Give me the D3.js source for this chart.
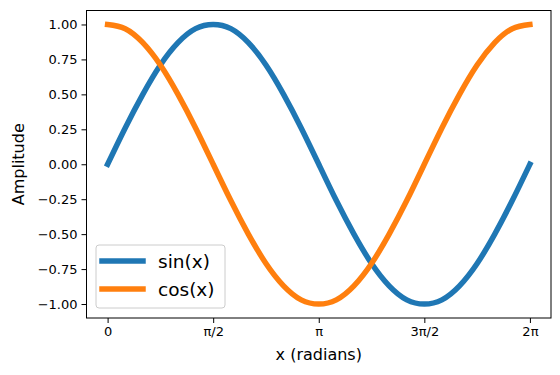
<!DOCTYPE html>
<html>
<head>
<meta charset="utf-8">
<script src="https://cdn.jsdelivr.net/npm/d3@7"></script>
<style>
  body { margin: 0; background: #fff; }
  svg { font-family: "DejaVu Sans", sans-serif; }
</style>
</head>
<body>
<svg id="chart" width="560" height="375"></svg>
<script>
// x positions (radians), every pi/12
const xs = [0, 0.262, 0.524, 0.785, 1.047, 1.309, 1.571, 1.833, 2.094, 2.356, 2.618, 2.880,
  3.142, 3.403, 3.665, 3.927, 4.189, 4.451, 4.712, 4.974, 5.236, 5.498, 5.760, 6.021, 6.283]
const sinValues = [0, 0.26, 0.5, 0.71, 0.87, 0.97, 1, 0.97, 0.87, 0.71, 0.5, 0.26,
  0, -0.26, -0.5, -0.71, -0.87, -0.97, -1, -0.97, -0.87, -0.71, -0.5, -0.26, 0]
const cosValues = [1, 0.97, 0.87, 0.71, 0.5, 0.26, 0, -0.26, -0.5, -0.71, -0.87, -0.97,
  -1, -0.97, -0.87, -0.71, -0.5, -0.26, 0, 0.26, 0.5, 0.71, 0.87, 0.97, 1]
const seriesNames = ["sin(x)", "cos(x)"]
const seriesColors = ["#1f77b4", "#ff7f0e"]
const xTickValues = [0, 1.5708, 3.1416, 4.7124, 6.2832]
const xTickLabels = ["0", "π/2", "π", "3π/2", "2π"]
const yTickValues = [1, 0.75, 0.5, 0.25, 0, -0.25, -0.5, -0.75, -1]

const svg = d3.select("#chart")
const plotLeft = 86.5, plotRight = 551, plotTop = 10.5, plotBottom = 318

const x = d3.scaleLinear().domain([-0.314, 6.597]).range([plotLeft, plotRight])
const y = d3.scaleLinear().domain([-1.1, 1.1]).range([plotBottom, plotTop])

const fmtY = (v) => d3.format(".2f")(v).replace("-", "\u2212")

//axes
svg.append("g")
    .attr("transform", `translate(0,${plotBottom})`)
    .call(d3.axisBottom(x).tickValues(xTickValues)
      .tickFormat((d, i) => xTickLabels[i]).tickSizeOuter(0).tickSize(5).tickPadding(4))
svg.append("g")
    .attr("transform", `translate(${plotLeft},0)`)
    .call(d3.axisLeft(y).tickValues(yTickValues).tickFormat(fmtY)
      .tickSizeOuter(0).tickSize(5).tickPadding(4))

svg.selectAll(".domain").remove()
svg.selectAll(".tick line").attr("stroke", "#000").attr("stroke-width", 1)
svg.selectAll(".tick text").attr("fill", "#000").attr("font-size", 13)
  .attr("font-family", "DejaVu Sans")

//lines
const line = d3.line()
    .x((d, i) => x(xs[i]))
    .y(d => y(d))
    .curve(d3.curveNatural)

const allSeries = [sinValues, cosValues]
svg.append("g").selectAll("path")
  .data(allSeries)
  .enter().append("path")
    .attr("d", line)
    .attr("fill", "none")
    .attr("stroke", (d, i) => seriesColors[i])
    .attr("stroke-width", 5.5)
    .attr("stroke-linecap", "square")

//frame
svg.append("rect")
    .attr("x", plotLeft).attr("y", plotTop)
    .attr("width", plotRight - plotLeft).attr("height", plotBottom - plotTop)
    .attr("fill", "none").attr("stroke", "#000").attr("stroke-width", 1)

//axis labels
svg.append("text")
    .attr("x", (plotLeft + plotRight) / 2).attr("y", 360)
    .attr("text-anchor", "middle").attr("font-size", 16)
    .text("x (radians)")
svg.append("text")
    .attr("transform", `translate(24,${(plotTop + plotBottom) / 2}) rotate(-90)`)
    .attr("text-anchor", "middle").attr("font-size", 16)
    .text("Amplitude")

//legend
const legend = svg.append("g").attr("transform", "translate(96,245)")
legend.append("rect")
    .attr("width", 129).attr("height", 63).attr("rx", 3)
    .attr("fill", "#fff").attr("fill-opacity", 0.8)
    .attr("stroke", "#ccc").attr("stroke-width", 1)
const items = legend.selectAll("g.item")
  .data(seriesNames)
  .enter().append("g")
    .attr("class", "item")
    .attr("transform", (d, i) => `translate(0,${16 + i * 28})`)
items.append("line")
    .attr("x1", 6).attr("x2", 47)
    .attr("stroke", (d, i) => seriesColors[i])
    .attr("stroke-width", 5.5)
    .attr("stroke-linecap", "square")
items.append("text")
    .attr("x", 62).attr("y", 6.5)
    .attr("font-size", 18.5)
    .text(d => d)
</script>
</body>
</html>
